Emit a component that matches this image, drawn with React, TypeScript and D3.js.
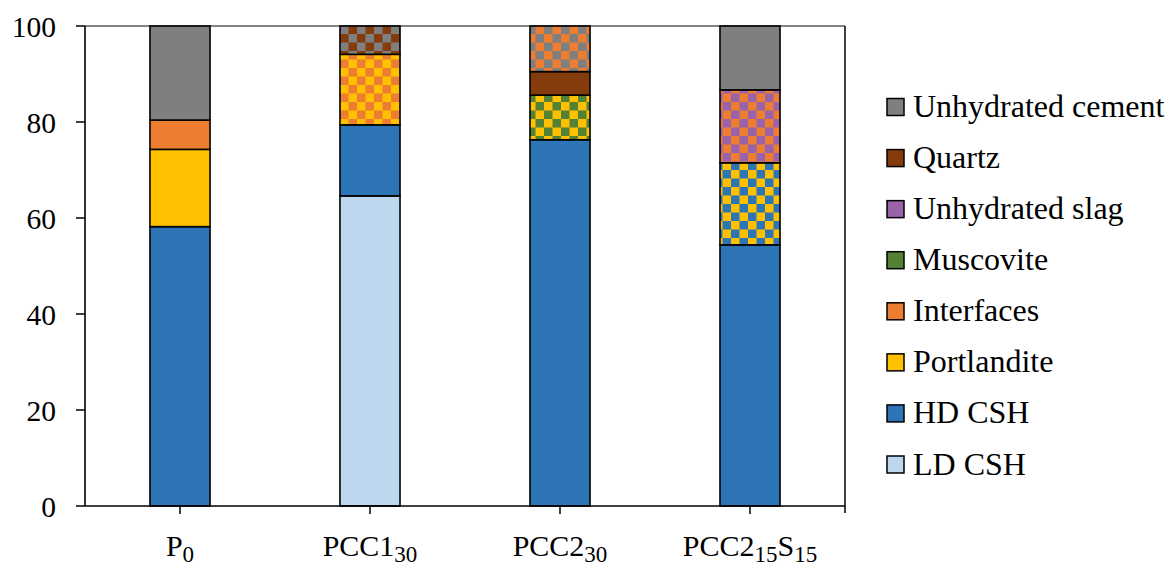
import React, { useEffect, useRef } from "react";
import * as d3 from "d3";

// categories along the x axis (main text + subscript parts)
const categories = ["P0", "PCC1_30", "PCC2_30", "PCC2_15S_15"];
const categoryLabels: [string, string][][] = [
  [["P", ""], ["0", "sub"]],
  [["PCC1", ""], ["30", "sub"]],
  [["PCC2", ""], ["30", "sub"]],
  [["PCC2", ""], ["15", "sub"], ["S", ""], ["15", "sub"]],
];

// stacked layers, bottom to top (values in %, one per category)
const ldCsh = [0, 64.6, 0, 0];
const hdCsh = [58.2, 14.8, 76.3, 54.4];
const portlandite = [16.1, 0, 0, 0];
const hdCshPortlandite = [0, 0, 0, 17.1];
const portlanditeMuscovite = [0, 0, 9.3, 0];
const portlanditeInterfaces = [0, 14.7, 0, 0];
const interfaces = [6.1, 0, 0, 0];
const interfacesSlag = [0, 0, 0, 15.2];
const quartz = [0, 0, 4.9, 0];
const quartzCement = [0, 5.9, 0, 0];
const interfacesCement = [0, 0, 9.5, 0];
const unhydratedCement = [19.6, 0, 0, 13.3];

const colors: Record<string, string> = {
  cement: "#7f7f7f",
  quartz: "#843c0c",
  slag: "#9a62a8",
  muscovite: "#548235",
  interfaces: "#ed7d31",
  portlandite: "#ffc000",
  hd: "#2e75b6",
  ld: "#bdd7ee",
};

// key, values, two colours (same twice = solid)
const layers: { key: string; values: number[]; a: string; b: string }[] = [
  { key: "ldCsh", values: ldCsh, a: "ld", b: "ld" },
  { key: "hdCsh", values: hdCsh, a: "hd", b: "hd" },
  { key: "portlandite", values: portlandite, a: "portlandite", b: "portlandite" },
  { key: "hdCshPortlandite", values: hdCshPortlandite, a: "portlandite", b: "hd" },
  { key: "portlanditeMuscovite", values: portlanditeMuscovite, a: "portlandite", b: "muscovite" },
  { key: "portlanditeInterfaces", values: portlanditeInterfaces, a: "portlandite", b: "interfaces" },
  { key: "interfaces", values: interfaces, a: "interfaces", b: "interfaces" },
  { key: "interfacesSlag", values: interfacesSlag, a: "interfaces", b: "slag" },
  { key: "quartz", values: quartz, a: "quartz", b: "quartz" },
  { key: "quartzCement", values: quartzCement, a: "quartz", b: "cement" },
  { key: "interfacesCement", values: interfacesCement, a: "interfaces", b: "cement" },
  { key: "unhydratedCement", values: unhydratedCement, a: "cement", b: "cement" },
];

const legendNames = [
  "Unhydrated cement",
  "Quartz",
  "Unhydrated slag",
  "Muscovite",
  "Interfaces",
  "Portlandite",
  "HD CSH",
  "LD CSH",
];
const legendColors = ["cement", "quartz", "slag", "muscovite", "interfaces", "portlandite", "hd", "ld"];

const yTicks = [0, 20, 40, 60, 80, 100];

const width = 1174;
const height = 575;
const font = "'Liberation Serif', 'Times New Roman', serif";

function App() {
  const svgRef = useRef<SVGSVGElement>(null);

  useEffect(() => {
    const svg = d3.select(svgRef.current);
    svg.selectAll("*").remove();

    const left = 85, right = 845, top = 26, bottom = 506;

    const x = d3.scaleBand().domain(categories).range([left, right]).padding(0);
    const y = d3.scaleLinear().domain([0, 100]).range([bottom, top]);
    const barW = x.bandwidth() * 0.316;

    // checker patterns
    const defs = svg.append("defs");
    const cell = 8.5;
    layers.forEach((l) => {
      if (l.a === l.b) return;
      const p = defs
        .append("pattern")
        .attr("id", "pat-" + l.key)
        .attr("patternUnits", "userSpaceOnUse")
        .attr("width", cell * 2)
        .attr("height", cell * 2);
      p.append("rect").attr("width", cell * 2).attr("height", cell * 2).attr("fill", colors[l.a]);
      p.append("rect").attr("x", cell).attr("width", cell).attr("height", cell).attr("fill", colors[l.b]);
      p.append("rect").attr("y", cell).attr("width", cell).attr("height", cell).attr("fill", colors[l.b]);
    });

    // stack
    const table = categories.map((c, i) => {
      const row: Record<string, any> = { cat: c };
      layers.forEach((l) => (row[l.key] = l.values[i]));
      return row;
    });
    const stack = d3.stack<any>().keys(layers.map((l) => l.key));
    const series = stack(table);

    // plot frame (top + right)
    svg.append("line").attr("x1", left).attr("x2", right).attr("y1", top).attr("y2", top)
      .attr("stroke", "#595959").attr("stroke-width", 1.5);
    svg.append("line").attr("x1", right).attr("x2", right).attr("y1", top).attr("y2", bottom + 7)
      .attr("stroke", "#000").attr("stroke-width", 1.5);

    series.forEach((s, li) => {
      const l = layers[li];
      const fill = l.a === l.b ? colors[l.a] : `url(#pat-${l.key})`;
      svg
        .append("g")
        .selectAll("rect")
        .data(s.filter((d) => d[1] - d[0] > 0))
        .enter()
        .append("rect")
        .attr("x", (d) => x(d.data.cat)! + (x.bandwidth() - barW) / 2)
        .attr("width", barW)
        .attr("y", (d) => y(d[1]))
        .attr("height", (d) => y(d[0]) - y(d[1]))
        .attr("fill", fill)
        .attr("stroke", "#000")
        .attr("stroke-width", 1.6);
    });

    // y axis
    svg.append("line").attr("x1", left).attr("x2", left).attr("y1", top).attr("y2", bottom)
      .attr("stroke", "#000").attr("stroke-width", 1.6);
    const yg = svg.append("g");
    yTicks.forEach((t) => {
      yg.append("line").attr("x1", left - 9).attr("x2", left).attr("y1", y(t)).attr("y2", y(t))
        .attr("stroke", "#000").attr("stroke-width", 1.5);
      yg.append("text").attr("x", 56).attr("y", y(t) + 10.5).attr("text-anchor", "end")
        .attr("font-family", font).attr("font-size", 29.5).attr("fill", "#000").text(t);
    });

    // x axis
    svg.append("line").attr("x1", left).attr("x2", right).attr("y1", bottom).attr("y2", bottom)
      .attr("stroke", "#000").attr("stroke-width", 1.6);
    categories.forEach((c, i) => {
      const cx = x(c)! + x.bandwidth() / 2;
      svg.append("line").attr("x1", cx).attr("x2", cx).attr("y1", bottom).attr("y2", bottom + 8)
        .attr("stroke", "#000").attr("stroke-width", 1.5);
      const t = svg.append("text").attr("x", cx).attr("y", 556).attr("text-anchor", "middle")
        .attr("font-family", font).attr("font-size", 30).attr("fill", "#000");
      let shifted = false;
      categoryLabels[i].forEach(([txt, kind]) => {
        if (kind === "sub") {
          t.append("tspan").attr("font-size", 23).attr("dy", 6).text(txt);
          shifted = true;
        } else {
          t.append("tspan").attr("dy", shifted ? -6 : 0).text(txt);
          shifted = false;
        }
      });
    });

    // legend
    const legY = d3.scalePoint().domain(legendNames).range([107, 464.5]);
    legendNames.forEach((n, i) => {
      const cy = legY(n)!;
      svg.append("rect").attr("x", 887).attr("y", cy - 8.5).attr("width", 17).attr("height", 17)
        .attr("fill", colors[legendColors[i]]).attr("stroke", "#000").attr("stroke-width", 1.5);
      svg.append("text").attr("x", 913).attr("y", cy + 10).attr("font-family", font)
        .attr("font-size", 32).attr("fill", "#000").text(n);
    });
  }, []);

  return (
    <svg
      ref={svgRef}
      width={width}
      height={height}
      style={{ position: "absolute", left: 0, top: 0, background: "#fff" }}
    />
  );
}

export default App;
